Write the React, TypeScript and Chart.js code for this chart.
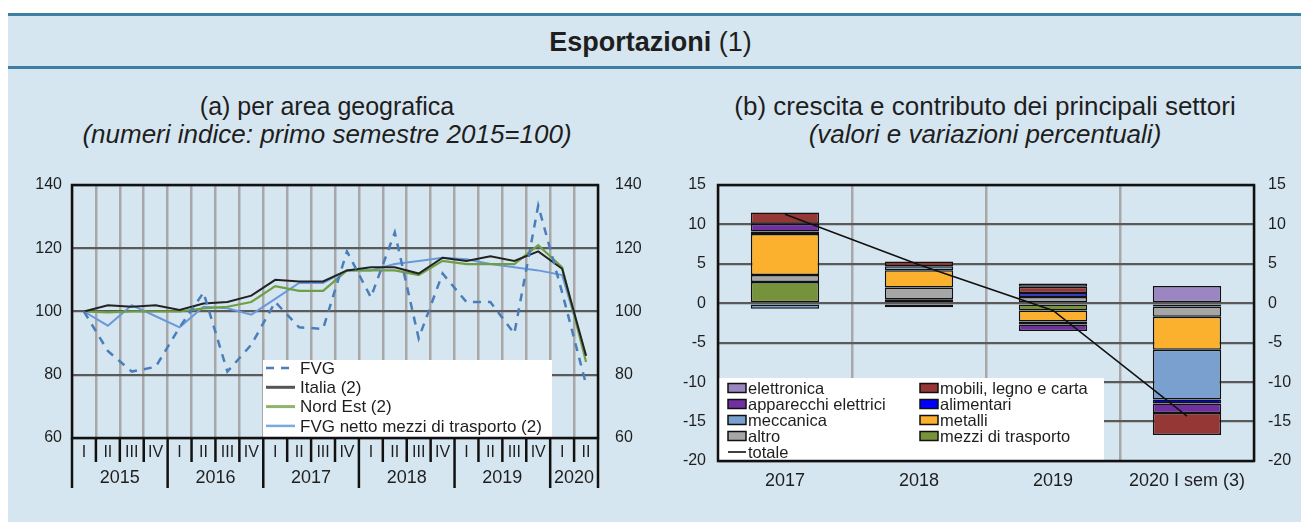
import React, { useEffect, useRef } from 'react';
import { Chart, registerables } from 'chart.js';
Chart.register(...registerables);

const FONT = "'Liberation Sans', Arial, sans-serif";

// ---- Panel (a) data ----
const quarterLabels = ['I','II','III','IV','I','II','III','IV','I','II','III','IV','I','II','III','IV','I','II','III','IV','I','II'];
const yearLabels = ['2015','2016','2017','2018','2019','2020'];
const quartersPerYear = [4, 4, 4, 4, 4, 2];
const fvg = [100, 87.5, 81, 82.5, 95, 106, 81, 89.5, 103, 95, 94.5, 119, 104.5, 125, 91.5, 112, 103, 103, 93, 133.5, 106, 77];
const italia = [100, 102, 101.5, 102, 100.5, 102.5, 103, 105, 110, 109.5, 109.5, 113, 114, 114, 112, 117, 116, 117.5, 116, 119, 113.5, 86];
const nordEst = [100, 99.7, 100, 100, 100, 101, 101.5, 103, 108, 106.5, 106.5, 113, 113, 113, 111.5, 116, 115, 115, 115, 121, 114, 84];
const fvgNetto = [100, 95.5, 102, 98.5, 95, 101.5, 101, 99, 104, 109, 109, 113, 113, 115, 116, 117, 116.5, 115, 114, 113, 111.5, 86];
const leftMin = 60;
const leftMax = 140;
const leftStep = 20;

// ---- Panel (b) data ----
const periods = ['2017', '2018', '2019', '2020 I sem (3)'];
const mezziTrasporto = [2.7, 0.5, -0.9, -0.4];
const altro = [0.9, 1.5, 0.8, -1.3];
const metalli = [5.2, 2.2, -1.4, -4.2];
const meccanica = [-0.7, 0.5, -0.4, -6.3];
const alimentari = [0.3, 0, 0.5, -0.5];
const apparecchiElettrici = [1.0, -0.5, -0.8, -1.2];
const mobiliLegnoCarta = [1.4, 0.6, 0.8, -2.8];
const elettronica = [0, 0, 0.4, 2.2];
const totale = [11.3, 4.9, -0.9, -14.3];
const rightMin = -20;
const rightMax = 15;
const rightStep = 5;

const C = {
  elettronica: '#9c86c2',
  mobili: '#953735',
  apparecchi: '#7030a0',
  alimentari: '#0000ff',
  meccanica: '#7aa0d0',
  metalli: '#fbb12d',
  altro: '#a6a6a6',
  mezzi: '#76933c',
};

const TXT = '#1e1e1e';

const fitV = (w: number) => (s: any) => {
  s.width = w;
  s.paddingTop = 0;
  s.paddingBottom = 0;
};

function leftConfig(): any {
  const series = [
    { label: 'FVG', data: fvg, borderColor: '#4a7ebb', borderWidth: 2.5, borderDash: [8, 7] },
    { label: 'Italia (2)', data: italia, borderColor: '#222222', borderWidth: 2 },
    { label: 'Nord Est (2)', data: nordEst, borderColor: '#6f9f45', borderWidth: 2.2 },
    { label: 'FVG netto mezzi di trasporto (2)', data: fvgNetto, borderColor: '#6a98dc', borderWidth: 2 },
  ];
  const decor = {
    id: 'leftDecor',
    afterDatasetsDraw(chart: any) {
      const ctx = chart.ctx;
      ctx.save();
      ctx.fillStyle = '#ffffff';
      ctx.fillRect(263, 190, 289, 77);
      const legendRows = [
        { s: series[0], color: '#4a7ebb', dash: [8, 7], w: 2.5 },
        { s: series[1], color: '#555555', dash: [], w: 3 },
        { s: series[2], color: '#8fb36a', dash: [], w: 3 },
        { s: series[3], color: '#7ea6e0', dash: [], w: 2.5 },
      ];
      legendRows.forEach((r, i) => {
        const y = 198 + i * 19.3;
        ctx.strokeStyle = r.color;
        ctx.lineWidth = r.w;
        ctx.setLineDash(r.dash);
        ctx.beginPath();
        ctx.moveTo(266, y);
        ctx.lineTo(295, y);
        ctx.stroke();
        ctx.setLineDash([]);
        ctx.fillStyle = TXT;
        ctx.font = `17px ${FONT}`;
        ctx.textBaseline = 'middle';
        ctx.textAlign = 'left';
        ctx.fillText(r.s.label, 300, y + 1);
      });
      ctx.restore();
    },
    afterDraw(chart: any) {
      const ctx = chart.ctx;
      const a = chart.chartArea;
      const xs = chart.scales.x;
      const n = quarterLabels.length;
      const step = xs.getPixelForValue(1) - xs.getPixelForValue(0);
      ctx.save();
      ctx.strokeStyle = '#111';
      ctx.lineWidth = 2.5;
      ctx.strokeRect(a.left, a.top, a.right - a.left, a.bottom - a.top);
      ctx.fillStyle = TXT;
      ctx.font = `16px ${FONT}`;
      ctx.textAlign = 'center';
      ctx.textBaseline = 'middle';
      quarterLabels.forEach((q, i) => {
        ctx.fillText(q, xs.getPixelForValue(i), a.bottom + 15);
      });
      const yearStarts = new Set<number>();
      let acc = 0;
      yearStarts.add(0);
      quartersPerYear.forEach((c) => { acc += c; yearStarts.add(acc); });
      ctx.strokeStyle = '#111';
      ctx.lineWidth = 2.5;
      for (let i = 0; i <= n; i++) {
        const x = xs.getPixelForValue(Math.min(i, n - 1)) + (i === n ? step / 2 : -step / 2);
        ctx.beginPath();
        ctx.moveTo(x, a.bottom);
        ctx.lineTo(x, a.bottom + (yearStarts.has(i) ? 50 : 24));
        ctx.stroke();
      }
      ctx.font = `18px ${FONT}`;
      let start = 0;
      yearLabels.forEach((y, k) => {
        const cnt = quartersPerYear[k];
        const cx = (xs.getPixelForValue(start) + xs.getPixelForValue(start + cnt - 1)) / 2;
        ctx.fillText(y, cx, a.bottom + 40);
        start += cnt;
      });
      ctx.restore();
    },
  };
  const yTicks = { stepSize: leftStep, font: { family: FONT, size: 16 }, color: TXT };
  return {
    type: 'line',
    data: {
      labels: quarterLabels,
      datasets: series.map((s) => ({ ...s, pointRadius: 0, tension: 0, fill: false })),
    },
    options: {
      responsive: false,
      animation: false,
      layout: { padding: { top: 15, left: 0, right: 0, bottom: 0 } },
      plugins: { legend: { display: false }, tooltip: { enabled: false } },
      scales: {
        x: {
          offset: true,
          grid: { offset: true, color: '#a8a8a8', lineWidth: 2.5, drawTicks: false },
          border: { display: false },
          ticks: { display: false },
          afterFit: (s: any) => { s.height = 62; },
        },
        y: {
          min: leftMin, max: leftMax,
          ticks: { ...yTicks, padding: 10 },
          grid: { color: '#5a5a5a', lineWidth: 2.2, drawTicks: false },
          border: { display: false },
          afterFit: fitV(72),
        },
        y2: {
          position: 'right',
          min: leftMin, max: leftMax,
          ticks: { ...yTicks, padding: 17 },
          grid: { display: false, drawTicks: false },
          border: { display: false },
          afterFit: fitV(62),
        },
      },
    },
    plugins: [decor],
  };
}

function rightConfig(): any {
  const bars = [
    { label: 'mezzi di trasporto', data: mezziTrasporto, backgroundColor: C.mezzi },
    { label: 'altro', data: altro, backgroundColor: C.altro },
    { label: 'metalli', data: metalli, backgroundColor: C.metalli },
    { label: 'meccanica', data: meccanica, backgroundColor: C.meccanica },
    { label: 'alimentari', data: alimentari, backgroundColor: C.alimentari },
    { label: 'apparecchi elettrici', data: apparecchiElettrici, backgroundColor: C.apparecchi },
    { label: 'mobili, legno e carta', data: mobiliLegnoCarta, backgroundColor: C.mobili },
    { label: 'elettronica', data: elettronica, backgroundColor: C.elettronica },
  ];
  const byLabel = (l: string) => bars.find((b) => b.label === l)!;
  const col1 = ['elettronica', 'apparecchi elettrici', 'meccanica', 'altro', 'totale'];
  const col2 = ['mobili, legno e carta', 'alimentari', 'metalli', 'mezzi di trasporto'];
  const decor = {
    id: 'rightDecor',
    afterDatasetsDraw(chart: any) {
      const ctx = chart.ctx;
      ctx.save();
      ctx.fillStyle = '#ffffff';
      ctx.fillRect(58, 208, 386, 83);
      ctx.font = `16.5px ${FONT}`;
      ctx.textBaseline = 'middle';
      ctx.textAlign = 'left';
      const drawItem = (label: string, x: number, y: number) => {
        if (label === 'totale') {
          ctx.strokeStyle = '#000';
          ctx.lineWidth = 1.5;
          ctx.beginPath();
          ctx.moveTo(x, y);
          ctx.lineTo(x + 18, y);
          ctx.stroke();
        } else {
          const b = byLabel(label);
          ctx.fillStyle = b.backgroundColor;
          ctx.fillRect(x, y - 4.5, 18, 9);
          ctx.strokeStyle = '#111';
          ctx.lineWidth = 1.5;
          ctx.strokeRect(x, y - 4.5, 18, 9);
        }
        ctx.fillStyle = TXT;
        ctx.fillText(label, x + 20, y + 1);
      };
      col1.forEach((l, i) => drawItem(l, 68, 218 + i * 16));
      col2.forEach((l, i) => drawItem(l, 260, 218 + i * 16));
      ctx.restore();
    },
    afterDraw(chart: any) {
      const ctx = chart.ctx;
      const a = chart.chartArea;
      ctx.save();
      ctx.strokeStyle = '#111';
      ctx.lineWidth = 2.5;
      ctx.strokeRect(a.left, a.top, a.right - a.left, a.bottom - a.top);
      ctx.restore();
    },
  };
  const yTicks = { stepSize: rightStep, font: { family: FONT, size: 16 }, color: TXT };
  return {
    type: 'bar',
    data: {
      labels: periods,
      datasets: [
        ...bars.map((b) => ({
          ...b,
          borderColor: '#111',
          borderWidth: (c: any) => (c.raw === 0 ? 0 : 1.5),
          borderSkipped: false,
          barPercentage: 0.51,
          categoryPercentage: 1,
          order: 1,
        })),
        {
          type: 'line',
          label: 'totale',
          data: totale,
          borderColor: '#111',
          borderWidth: 1.6,
          pointRadius: 0,
          tension: 0,
          stack: 'tot',
          order: 0,
        },
      ],
    },
    options: {
      responsive: false,
      animation: false,
      layout: { padding: { top: 15, left: 0, right: 0, bottom: 0 } },
      plugins: { legend: { display: false }, tooltip: { enabled: false } },
      scales: {
        x: {
          stacked: true,
          grid: { offset: true, color: '#a8a8a8', lineWidth: 2.5, drawTicks: false },
          border: { display: false },
          ticks: { font: { family: FONT, size: 18 }, color: TXT, padding: 9 },
          afterFit: (s: any) => { s.height = 39; },
        },
        y: {
          stacked: true,
          min: rightMin, max: rightMax,
          ticks: { ...yTicks, padding: 12 },
          grid: { color: '#5a5a5a', lineWidth: 2.2, drawTicks: false },
          border: { display: false },
          afterFit: fitV(58),
        },
        y2: {
          position: 'right',
          min: rightMin, max: rightMax,
          ticks: { ...yTicks, padding: 14 },
          grid: { display: false, drawTicks: false },
          border: { display: false },
          afterFit: fitV(47),
        },
      },
    },
    plugins: [decor],
  };
}

export default function App() {
  const leftRef = useRef<HTMLCanvasElement>(null);
  const rightRef = useRef<HTMLCanvasElement>(null);
  useEffect(() => {
    const c1 = new Chart(leftRef.current as HTMLCanvasElement, leftConfig());
    const c2 = new Chart(rightRef.current as HTMLCanvasElement, rightConfig());
    return () => {
      c1.destroy();
      c2.destroy();
    };
  }, []);
  const sub: React.CSSProperties = {
    position: 'absolute',
    textAlign: 'center',
    fontSize: 26,
    color: '#1e1e1e',
    lineHeight: '28px',
    whiteSpace: 'nowrap',
  };
  return (
    <div style={{ position: 'absolute', left: 0, top: 0, width: 1301, height: 522, background: '#ffffff', fontFamily: FONT, overflow: 'hidden' }}>
      <div style={{ position: 'absolute', left: 8, top: 14, width: 1293, height: 508, background: '#d6e6f0' }} />
      <div style={{ position: 'absolute', left: 8, top: 13, width: 1293, height: 3, background: '#3d7fa3' }} />
      <div style={{ position: 'absolute', left: 8, top: 66, width: 1293, height: 3, background: '#3d7fa3' }} />
      <div style={{ position: 'absolute', left: 0, top: 26, width: 1301, textAlign: 'center', fontSize: 27, lineHeight: '32px', color: '#1e1e1e' }}>
        <span style={{ fontWeight: 'bold' }}>Esportazioni</span> (1)
      </div>
      <div style={{ ...sub, left: 0, width: 654, top: 92, fontSize: 25 }}>(a) per area geografica</div>
      <div style={{ ...sub, left: 0, width: 654, top: 120, fontStyle: 'italic' }}>(numeri indice: primo semestre 2015=100)</div>
      <div style={{ ...sub, left: 670, width: 630, top: 92 }}>(b) crescita e contributo dei principali settori</div>
      <div style={{ ...sub, left: 670, width: 630, top: 120, fontStyle: 'italic' }}>(valori e variazioni percentuali)</div>
      <canvas ref={leftRef} width={660} height={330} style={{ position: 'absolute', left: 0, top: 170, width: 660, height: 330 }} />
      <canvas ref={rightRef} width={641} height={330} style={{ position: 'absolute', left: 660, top: 170, width: 641, height: 330 }} />
    </div>
  );
}
